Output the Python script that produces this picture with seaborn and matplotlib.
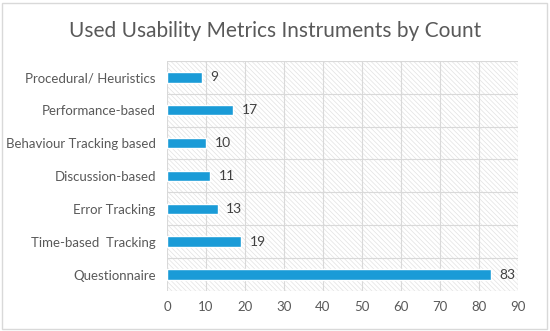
import matplotlib
matplotlib.use('Agg')
import matplotlib.pyplot as plt
import seaborn as sns
import pandas as pd
from matplotlib.patches import Rectangle

# data, top to bottom as shown
categories = ["Procedural/ Heuristics", "Performance-based", "Behaviour Tracking based",
              "Discussion-based", "Error Tracking", "Time-based  Tracking", "Questionnaire"]
counts = [9, 17, 10, 11, 13, 19, 83]
x_ticks = [0, 10, 20, 30, 40, 50, 60, 70, 80, 90]

df = pd.DataFrame({"category": categories, "count": counts})

sns.set_style("white")
plt.rcParams['font.family'] = ['Lato', 'DejaVu Sans']
plt.rcParams['hatch.color'] = '#e2e2e2'
plt.rcParams['hatch.linewidth'] = 0.5

fig = plt.figure(figsize=(5.5, 3.31), dpi=100)
fig.patches.append(Rectangle((0.004, 0.006), 0.99, 0.985, transform=fig.transFigure,
                             fill=False, edgecolor='#d9d9d9', linewidth=1))
ax = fig.add_axes([0.3036, 0.121, 0.638, 0.695])

# hatched plot area background
ax.add_patch(Rectangle((0, 0), 1, 1, transform=ax.transAxes, facecolor='white',
                       hatch='\\' * 7, edgecolor='#e2e2e2', linewidth=0, zorder=0))

sns.barplot(data=df, x="count", y="category", color='#1a9bd7', width=0.32,
            saturation=1, ax=ax, zorder=3)

ax.set_xlim(0, 90)
ax.set_ylim(6.5, -0.5)
ax.set_xticks(x_ticks)
ax.set_xlabel("")
ax.set_ylabel("")

# gridlines: vertical at ticks, horizontal between categories
for xv in x_ticks:
    ax.axvline(xv, color='#d9d9d9', linewidth=0.8, zorder=1)
for k in range(len(categories) + 1):
    ax.axhline(k - 0.5, color='#d9d9d9', linewidth=0.8, zorder=1)

for sp in ax.spines.values():
    sp.set_visible(False)
ax.tick_params(axis='both', length=0, colors='#595959', labelsize=9.5)
ax.tick_params(axis='x', pad=7)
ax.tick_params(axis='y', pad=8)

for i, v in enumerate(counts):
    ax.text(v + 2.2, i, str(v), va='center', ha='left', fontsize=10, color='#404040', zorder=4)

fig.text(0.5, 0.905, "Used Usability Metrics Instruments by Count", ha='center', va='center',
         fontsize=15, color='#595959')

fig.savefig("out.png", dpi=100)
